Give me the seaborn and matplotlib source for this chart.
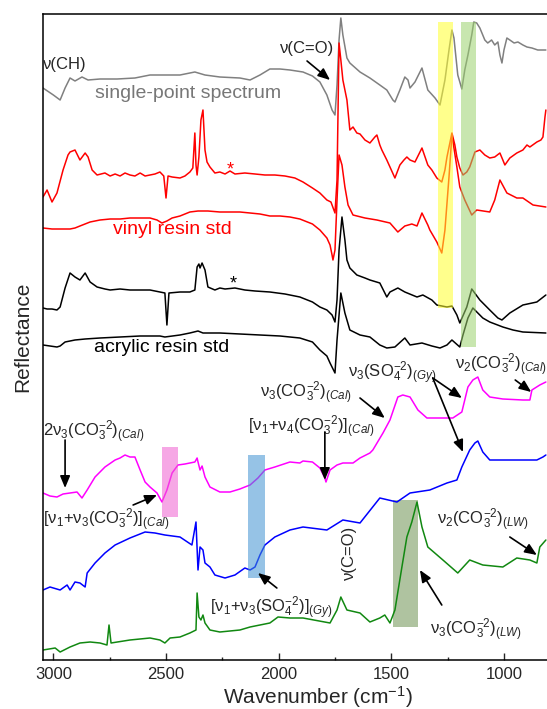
import matplotlib
matplotlib.use('Agg')
import matplotlib.pyplot as plt
import pandas as pd
import seaborn as sns

# ---------------- data (wavenumber in cm-1, reflectance in offset a.u.) -------------
gray_wn = [3046,3000,2970,2948,2926,2904,2873,2846,2793,2717,2638,2571,2505,2438,2372,2327,2261,2172,2127,2083,
           2039,1994,1950,1892,1850,1817,1786,1763,1750,1741,1732,1724,1715,1697,1684,1639,1595,1551,1520,1493,
           1484,1462,1440,1426,1417,1395,1364,1338,1306,1284,1262,1244,1231,1222,1205,1187,1174,1160,1143,1134,
           1121,1107,1085,1072,1055,1041,1027,1018,1009,1000,987,974,955,938,916,898,876,850,814]
gray_y = [572,565,560,572,582,579,583,580,581,581,582,585,585,585,588,585,583,582,580,585,
          591,591,590,588,584,578,565,550,545,575,620,642,625,602,597,588,582,575,570,560,
          558,570,583,580,572,578,592,570,562,555,580,610,630,622,585,571,590,605,625,638,
          637,632,620,617,620,615,618,605,597,610,622,620,617,618,615,613,612,610,610]

red_wn = [3046,3028,3006,2984,2957,2935,2926,2904,2882,2859,2846,2828,2806,2771,2748,2726,2704,2682,2660,2638,
          2615,2593,2571,2549,2527,2510,2500,2491,2473,2438,2416,2394,2381,2372,2367,2362,2354,2345,2336,2327,
          2318,2305,2283,2261,2238,2216,2194,2150,2105,2061,2017,1972,1928,1892,1850,1817,1786,1768,1750,1741,
          1732,1724,1715,1697,1684,1670,1653,1639,1617,1595,1573,1564,1551,1542,1520,1506,1484,1462,1444,1431,
          1417,1395,1364,1338,1320,1298,1276,1262,1253,1231,1218,1209,1196,1182,1165,1152,1129,1107,1085,1063,
          1041,1018,1005,996,974,943,916,898,885,854,836,827,818,814]
red_y = [463,470,458,467,490,505,508,510,500,507,503,490,485,487,484,486,484,487,485,484,
         487,484,485,486,488,484,462,484,483,482,484,488,492,527,495,485,503,540,550,510,
         498,493,487,488,486,489,486,487,486,485,485,484,482,478,472,467,460,458,447,480,
         617,600,580,560,530,533,527,526,520,517,523,525,515,510,500,493,482,495,500,503,
         500,498,512,495,490,482,478,490,503,527,515,503,492,485,488,493,508,510,505,502,
         503,507,500,495,502,507,510,515,513,518,520,523,543,550]

vinyl_wn = [3046,3006,2970,2926,2904,2882,2837,2793,2748,2704,2660,2615,2571,2540,2518,2496,2473,2438,2394,2358,
            2314,2261,2216,2172,2127,2083,2039,1994,1950,1906,1850,1817,1786,1772,1763,1759,1750,1741,1732,1719,
            1706,1692,1670,1617,1564,1506,1471,1440,1409,1386,1364,1338,1329,1298,1276,1262,1244,1231,1209,1196,
            1174,1143,1121,1063,1041,1018,987,943,916,871,814]
vinyl_y = [432,431,431,431,432,434,438,440,441,441,442,442,442,440,437,439,442,444,448,449,
           449,448,448,448,447,446,444,444,443,441,436,430,422,415,405,400,410,460,505,495,
           473,455,445,442,440,437,428,434,436,434,447,435,430,418,407,430,483,525,493,473,
           460,445,450,448,460,480,467,462,462,455,453]

black_wn = [3046,3028,3006,2984,2970,2948,2926,2904,2882,2859,2837,2806,2771,2748,2704,2660,2615,2571,2527,2505,
            2496,2487,2438,2394,2372,2362,2354,2349,2340,2327,2314,2283,2261,2238,2194,2150,2105,2039,1972,1906,
            1850,1817,1786,1763,1750,1741,1732,1719,1706,1697,1684,1653,1617,1595,1551,1520,1506,1471,1440,1386,
            1360,1320,1298,1253,1231,1209,1196,1165,1143,1107,1063,1027,1009,974,916,854,814]
black_y = [352,351,351,350,353,372,387,383,380,387,378,373,371,370,371,370,370,370,368,367,
           335,367,368,368,370,393,396,392,397,390,373,370,372,371,372,370,369,368,366,363,
           358,353,350,345,338,360,410,443,420,400,392,385,382,380,377,363,368,372,368,363,
           365,360,355,353,354,345,337,353,371,360,350,342,340,347,355,358,365]

acrylic_wn = [3046,2984,2970,2948,2904,2859,2793,2704,2615,2527,2505,2438,2394,2358,2336,2261,2172,2083,1994,1906,
              1850,1817,1786,1772,1750,1741,1724,1706,1684,1639,1595,1551,1520,1484,1440,1417,1364,1320,1284,1253,
              1231,1196,1182,1160,1138,1116,1094,1063,1005,960,916,814]
acrylic_y = [315,313,314,318,320,321,322,323,324,324,323,325,327,329,327,327,326,325,324,322,
             318,310,304,297,287,320,367,347,330,325,323,315,312,313,322,315,317,314,312,315,
             320,313,325,342,352,347,342,338,333,330,328,327]

mag_wn = [3046,3015,2984,2957,2926,2895,2873,2850,2815,2771,2726,2704,2682,2660,2638,2615,2593,2571,2540,2518,
          2496,2473,2447,2416,2394,2372,2362,2358,2349,2340,2327,2305,2261,2216,2172,2150,2127,2092,2061,2017,
          1950,1906,1892,1850,1817,1795,1790,1772,1741,1715,1670,1639,1595,1582,1537,1506,1471,1449,1417,1382,
          1342,1298,1227,1187,1160,1138,1116,1094,1063,1005,916,885,876,841,814]
mag_y = [167,164,163,166,167,168,162,170,183,193,200,202,205,203,203,190,178,173,167,158,
         170,187,195,196,197,198,202,198,190,194,183,173,168,168,171,173,175,182,190,193,
         198,197,199,198,192,182,178,190,195,197,197,202,207,210,227,240,263,265,263,250,
         242,242,242,248,273,280,283,270,263,261,260,260,270,275,278]

blue_wn = [3046,3015,2970,2939,2926,2904,2882,2859,2850,2815,2771,2726,2660,2593,2549,2505,2438,2385,2367,2358,
           2349,2336,2327,2305,2283,2238,2194,2150,2127,2105,2083,2061,2017,1950,1892,1786,1715,1639,1551,1475,
           1417,1329,1253,1209,1187,1152,1129,1116,1094,1063,974,854,827,814]
blue_y = [70,73,70,75,70,78,77,73,87,97,107,115,122,128,127,125,123,115,138,90,
          113,110,97,93,85,82,85,92,90,93,105,115,123,130,133,130,140,137,162,158,
          167,170,177,180,193,210,217,219,208,200,200,200,203,205]

green_wn = [3046,2992,2970,2926,2882,2837,2793,2762,2753,2744,2660,2571,2527,2505,2482,2438,2394,2367,2362,2354,
            2345,2336,2327,2305,2261,2172,2127,2083,2039,2003,1950,1892,1772,1741,1724,1697,1639,1595,1551,1529,
            1506,1484,1453,1431,1409,1386,1364,1338,1271,1205,1152,1094,1005,943,885,854,841,814]
green_y = [10,12,8,13,17,18,17,15,35,17,20,22,20,17,22,23,27,30,67,43,
           40,45,37,30,28,30,33,35,37,43,42,42,37,50,63,50,47,38,42,45,
           37,50,93,123,138,158,133,113,100,87,100,95,93,102,100,97,113,120]

# highlighted bands: (wn high, wn low, y low, y high)
band_names = ['yellow', 'green', 'pink', 'blue', 'olive']
band_wn_hi = [1293, 1191, 2518, 2136, 1493]
band_wn_lo = [1227, 1124, 2447, 2061, 1382]
band_y_lo = [352, 313, 143, 82, 33]
band_y_hi = [638, 638, 213, 205, 160]

x_ticks = [3000, 2500, 2000, 1500, 1000]

# ---------------- style ----------------
sns.set_style('ticks')
plt.rcParams['font.family'] = ['Liberation Sans', 'DejaVu Sans']
plt.rcParams['mathtext.fontset'] = 'custom'
plt.rcParams['mathtext.rm'] = 'Liberation Sans'
plt.rcParams['mathtext.it'] = 'Liberation Sans:italic'
plt.rcParams['mathtext.bf'] = 'Liberation Sans:bold'
plt.rcParams['mathtext.default'] = 'regular'

fig = plt.figure(figsize=(5.47, 7.09), dpi=100)
ax = fig.add_axes([43 / 547, 49 / 709, 504 / 547, 646 / 709])

traces = [
    ('single-point', gray_wn, gray_y, '#808080'),
    ('red sample', red_wn, red_y, '#ff0000'),
    ('vinyl std', vinyl_wn, vinyl_y, '#ff0000'),
    ('black sample', black_wn, black_y, '#000000'),
    ('acrylic std', acrylic_wn, acrylic_y, '#000000'),
    ('calcite', mag_wn, mag_y, '#ff00ff'),
    ('gypsum', blue_wn, blue_y, '#0000ff'),
    ('lead white', green_wn, green_y, '#118811'),
]
df = pd.concat([pd.DataFrame({'wn': w, 'refl': y, 'trace': n}) for n, w, y, c in traces],
               ignore_index=True)
for n, w, y, c in traces:
    sns.lineplot(data=df[df['trace'] == n], x='wn', y='refl', color=c, lw=1.1,
                 estimator=None, sort=False, ax=ax, zorder=2)

band_colors = {'yellow': '#ffff2e', 'green': '#9bd26e', 'pink': '#f060d0',
               'blue': '#4092d2', 'olive': '#6e9252'}
for name, hi, lo, y0, y1 in zip(band_names, band_wn_hi, band_wn_lo, band_y_lo, band_y_hi):
    z = 1 if name == 'olive' else 3
    ax.fill_betweenx([y0, y1], hi, lo, color=band_colors[name], alpha=0.55, lw=0, zorder=z)

ax.set_xlim(3046, 809)
ax.set_ylim(0, 646)
ax.set_xticks(x_ticks)
ax.set_xticks([2750, 2250, 1750, 1250], minor=True)
ax.set_yticks([])
ax.tick_params(axis='x', which='major', direction='in', length=5, width=1.0,
               labelsize=12, pad=5, top=False)
ax.tick_params(axis='x', which='minor', direction='in', length=2.5, width=1.0, top=False)
for s in ['left', 'bottom', 'top']:
    ax.spines[s].set_linewidth(1.1)
    ax.spines[s].set_color('black')
ax.spines['right'].set_visible(False)

ax.set_xlabel('Wavenumber (cm$^{-1}$)', fontsize=15)
ax.xaxis.set_label_coords(0.545, -0.037)
ax.set_ylabel('Reflectance', fontsize=15)
ax.yaxis.set_label_coords(-0.022, 0.5)

# ---------------- text labels ----------------
fs = 12
ax.text(3046, 595, 'ν(CH)', fontsize=fs, ha='left', va='center')
ax.text(2815, 567, 'single-point spectrum', fontsize=14, color='#777777', ha='left', va='center')
ax.text(2734, 430, 'vinyl resin std', fontsize=14, color='#ff0000', ha='left', va='center')
ax.text(2819, 312, 'acrylic resin std', fontsize=14, color='black', ha='left', va='center')
ax.text(2216, 490, '*', fontsize=13, color='#ff0000', ha='center', va='center')
ax.text(2203, 376, '*', fontsize=13, color='black', ha='center', va='center')
ax.text(1994, 612, 'ν(C=O)', fontsize=fs, ha='left', va='center')

ax.text(3044, 228, '2ν$_3$(CO$_3^{-2}$)$_{(\\mathit{Cal})}$', fontsize=fs, ha='left', va='center')
ax.text(3046, 140, '[ν$_1$+ν$_3$(CO$_3^{-2}$)]$_{(\\mathit{Cal})}$', fontsize=fs, ha='left', va='center')
ax.text(2136, 233, '[ν$_1$+ν$_4$(CO$_3^{-2}$)]$_{(\\mathit{Cal})}$', fontsize=fs, ha='left', va='center')
ax.text(2083, 267, 'ν$_3$(CO$_3^{-2}$)$_{(\\mathit{Cal})}$', fontsize=fs, ha='left', va='center')
ax.text(1693, 287, 'ν$_3$(SO$_4^{-2}$)$_{(\\mathit{Gy})}$', fontsize=fs, ha='left', va='center')
ax.text(1218, 295, 'ν$_2$(CO$_3^{-2}$)$_{(\\mathit{Cal})}$', fontsize=fs, ha='left', va='center')
ax.text(2305, 52, '[ν$_1$+ν$_3$(SO$_4^{-2}$)]$_{(\\mathit{Gy})}$', fontsize=fs, ha='left', va='center')
ax.text(1684, 107, 'ν(C=O)', fontsize=fs, ha='center', va='center', rotation=90)
ax.text(1298, 140, 'ν$_2$(CO$_3^{-2}$)$_{(\\mathit{LW})}$', fontsize=fs, ha='left', va='center')
ax.text(1329, 30, 'ν$_3$(CO$_3^{-2}$)$_{(\\mathit{LW})}$', fontsize=fs, ha='left', va='center')

# ---------------- arrows ----------------
arrows = [
    ((1874, 599), (1772, 580)),
    ((2948, 220), (2948, 172)),
    ((2646, 155), (2540, 165)),
    ((1795, 228), (1795, 180)),
    ((1639, 262), (1529, 242)),
    ((1316, 282), (1187, 262)),
    ((1316, 282), (1182, 208)),
    ((950, 280), (879, 268)),
    ((2008, 72), (2092, 87)),
    ((974, 123), (854, 105)),
    ((1276, 55), (1373, 90)),
]
for start, end in arrows:
    ax.annotate('', xy=end, xytext=start,
                arrowprops=dict(arrowstyle='-|>,head_length=0.6,head_width=0.25',
                                color='black', lw=1.2, shrinkA=0, shrinkB=0,
                                mutation_scale=12))

fig.savefig('out.png', dpi=100)
